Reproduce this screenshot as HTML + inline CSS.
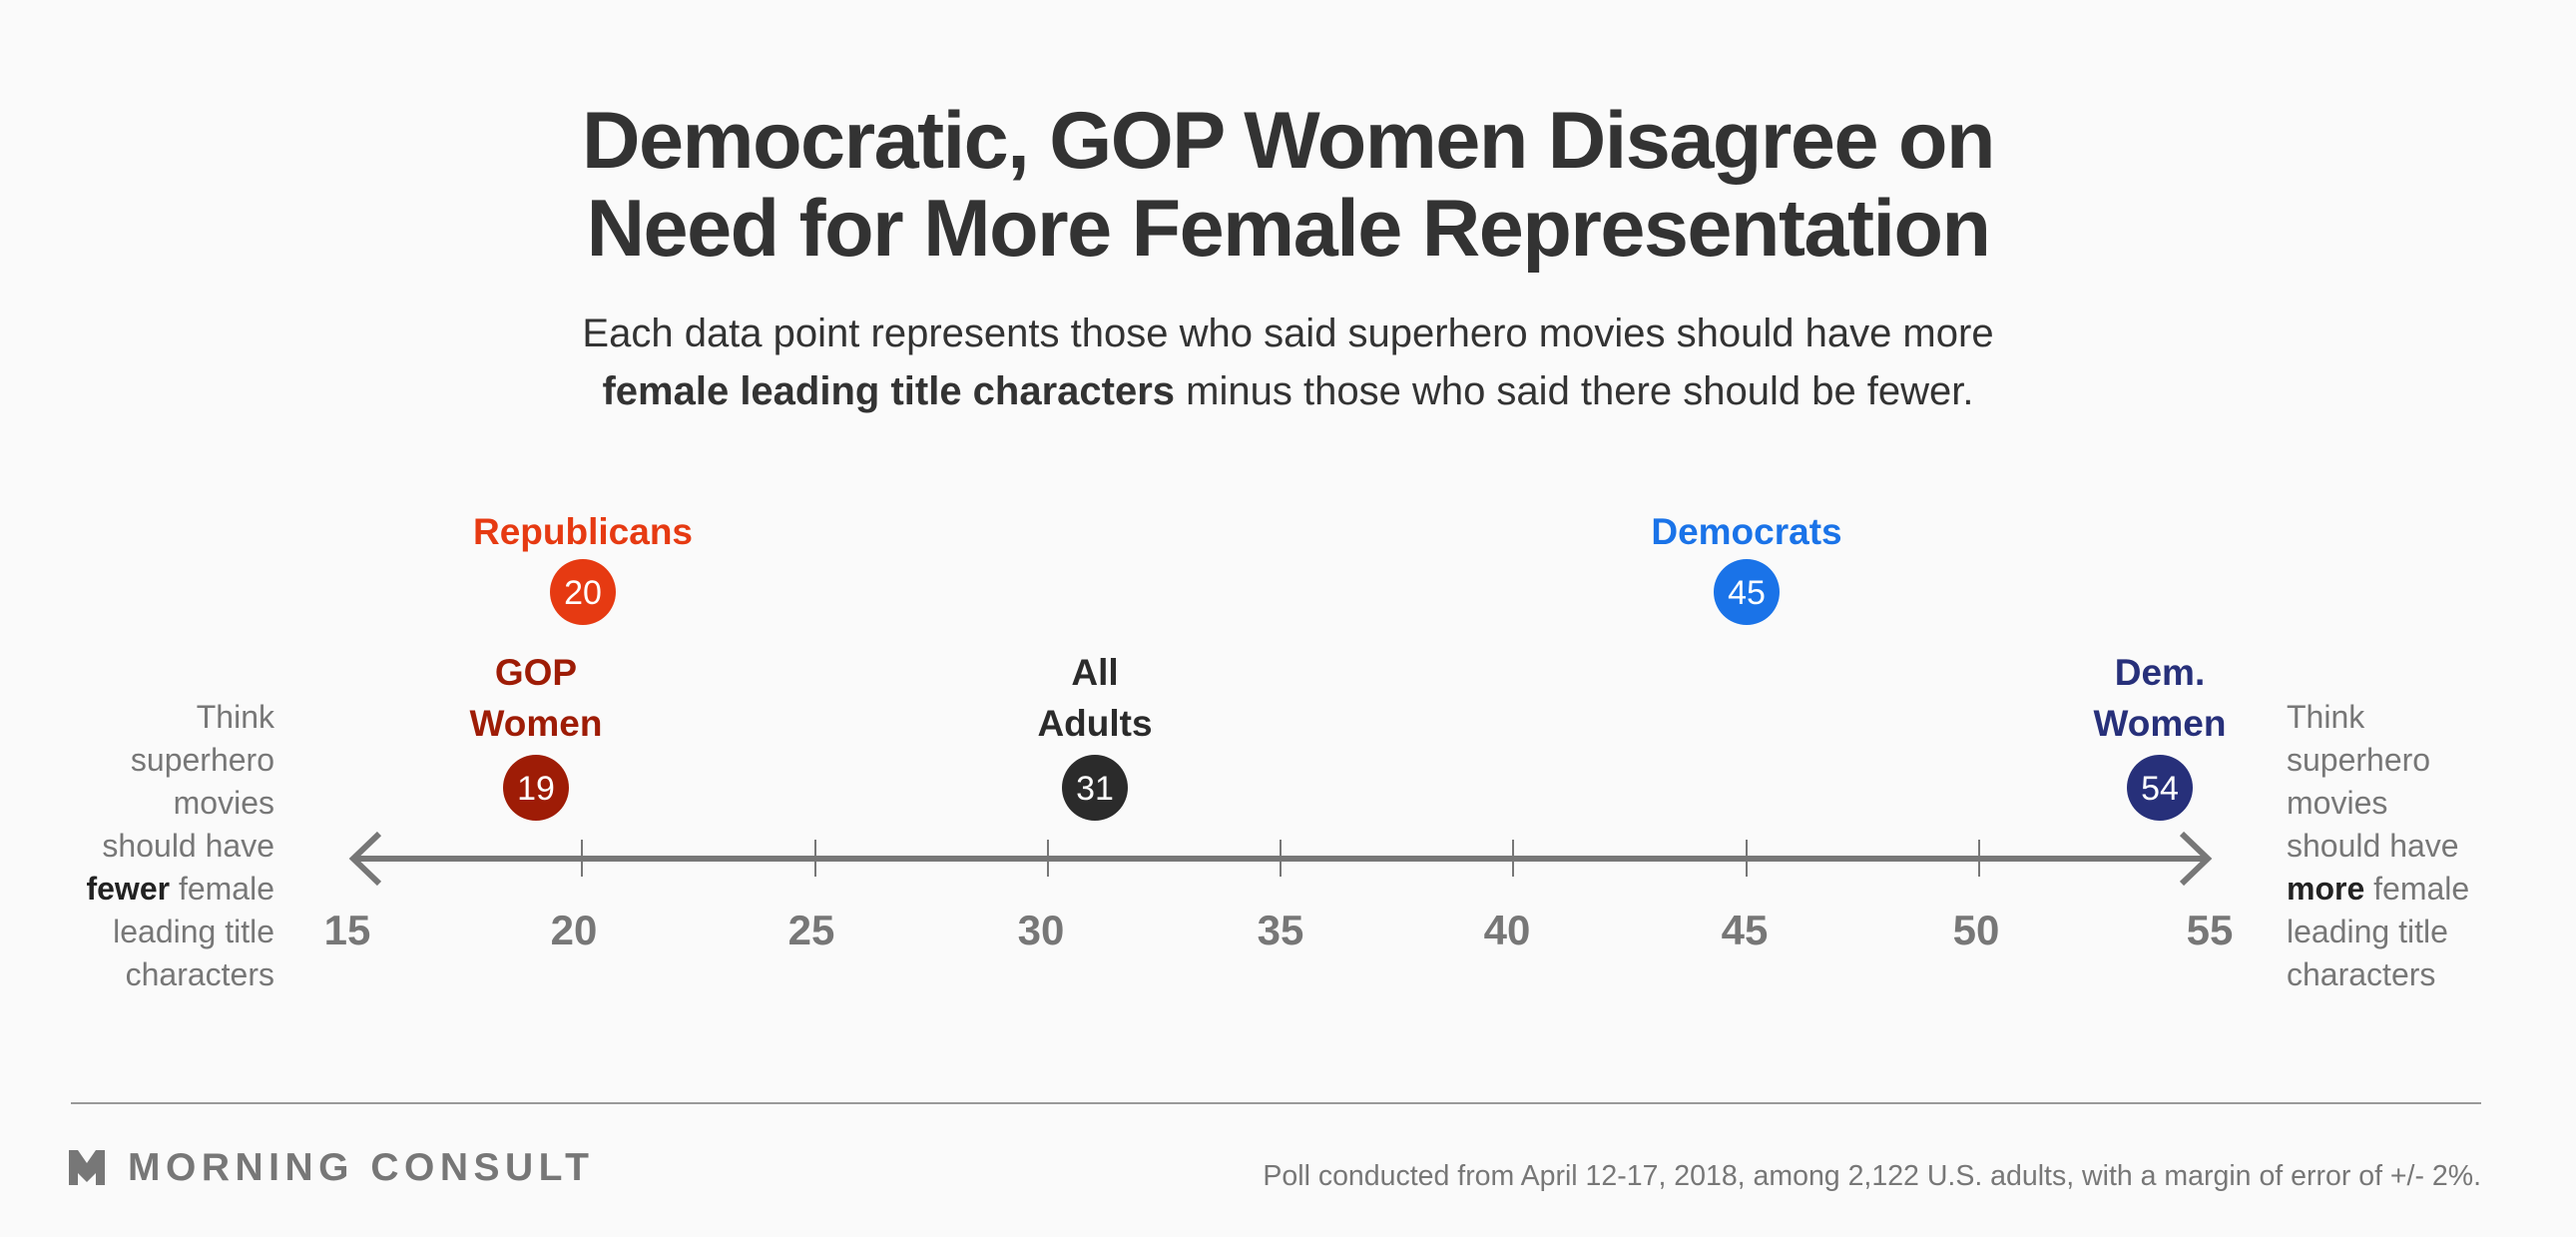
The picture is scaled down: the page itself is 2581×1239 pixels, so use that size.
<!DOCTYPE html>
<html><head><meta charset="utf-8"><style>
html,body{margin:0;padding:0;background:#fafafa;}
body{width:2581px;height:1239px;position:relative;overflow:hidden;font-family:"Liberation Sans",sans-serif;}
.t{position:absolute;white-space:nowrap;}
</style></head><body>
<div class="t" style="left:0;width:2581px;text-align:center;top:97px;font-size:81px;font-weight:bold;color:#333;line-height:88px;letter-spacing:-1.5px">Democratic, GOP Women Disagree on<br>Need for More Female Representation</div>
<div class="t" style="left:0;width:2581px;text-align:center;top:305px;font-size:40px;color:#333;line-height:58px">Each data point represents those who said superhero movies should have more<br><b>female leading title characters</b> minus those who said there should be fewer.</div>

<svg width="2581" height="1239" style="position:absolute;left:0;top:0" font-family="Liberation Sans, sans-serif">
<line x1="356" y1="860" x2="2210" y2="860" stroke="#777" stroke-width="6"/>
<polyline points="380,835 354,860 380,885" fill="none" stroke="#777" stroke-width="6"/>
<polyline points="2186,835 2212,860 2186,885" fill="none" stroke="#777" stroke-width="6"/>
<g stroke="#777" stroke-width="2">
<line x1="583" y1="841" x2="583" y2="878"/><line x1="817" y1="841" x2="817" y2="878"/><line x1="1050" y1="841" x2="1050" y2="878"/><line x1="1283" y1="841" x2="1283" y2="878"/><line x1="1516" y1="841" x2="1516" y2="878"/><line x1="1750" y1="841" x2="1750" y2="878"/><line x1="1983" y1="841" x2="1983" y2="878"/>
</g>
<g fill="#777" font-size="42" font-weight="bold" text-anchor="middle">
<text x="348" y="946">15</text><text x="575" y="946">20</text><text x="813" y="946">25</text><text x="1043" y="946">30</text><text x="1283" y="946">35</text><text x="1510" y="946">40</text><text x="1748" y="946">45</text><text x="1980" y="946">50</text><text x="2214" y="946">55</text>
</g>
<g font-weight="bold" font-size="37" text-anchor="middle">
<text x="584" y="545" fill="#e63a12">Republicans</text>
<text x="1750" y="545" fill="#1a73e8">Democrats</text>
<text x="537" y="686" fill="#9e1c06">GOP</text><text x="537" y="737" fill="#9e1c06">Women</text>
<text x="1097" y="686" fill="#2b2b2b">All</text><text x="1097" y="737" fill="#2b2b2b">Adults</text>
<text x="2164" y="686" fill="#27307a">Dem.</text><text x="2164" y="737" fill="#27307a">Women</text>
</g>
<circle cx="584" cy="593" r="33" fill="#e63a12"/>
<circle cx="1750" cy="593" r="33" fill="#1a73e8"/>
<circle cx="537" cy="789" r="33" fill="#9e1c06"/>
<circle cx="1097" cy="789" r="33" fill="#2b2b2b"/>
<circle cx="2164" cy="789" r="33" fill="#27307a"/>
<g fill="#fff" font-size="34" text-anchor="middle">
<text x="584" y="605">20</text><text x="1750" y="605">45</text><text x="537" y="801">19</text><text x="1097" y="801">31</text><text x="2164" y="801">54</text>
</g>
<g fill="#777" font-size="32" text-anchor="end">
<text x="275" y="729">Think</text><text x="275" y="772">superhero</text><text x="275" y="815">movies</text><text x="275" y="858">should have</text><text x="275" y="901"><tspan fill="#222" font-weight="bold">fewer</tspan> female</text><text x="275" y="944">leading title</text><text x="275" y="987">characters</text>
</g>
<g fill="#777" font-size="32">
<text x="2291" y="729">Think</text><text x="2291" y="772">superhero</text><text x="2291" y="815">movies</text><text x="2291" y="858">should have</text><text x="2291" y="901"><tspan fill="#222" font-weight="bold">more</tspan> female</text><text x="2291" y="944">leading title</text><text x="2291" y="987">characters</text>
</g>
<line x1="71" y1="1105" x2="2486" y2="1105" stroke="#999" stroke-width="2"/>
<polygon points="69,1152 78,1152 87,1165 96,1152 105,1152 105,1187 96,1187 96,1175 87,1184 78,1175 78,1187 69,1187" fill="#777"/>
<text x="128" y="1182" fill="#777" font-size="39" font-weight="bold" letter-spacing="5.5">MORNING CONSULT</text>
<text x="2486" y="1187" fill="#777" font-size="28.5" text-anchor="end">Poll conducted from April 12-17, 2018, among 2,122 U.S. adults, with a margin of error of +/- 2%.</text>
</svg>
</body></html>
